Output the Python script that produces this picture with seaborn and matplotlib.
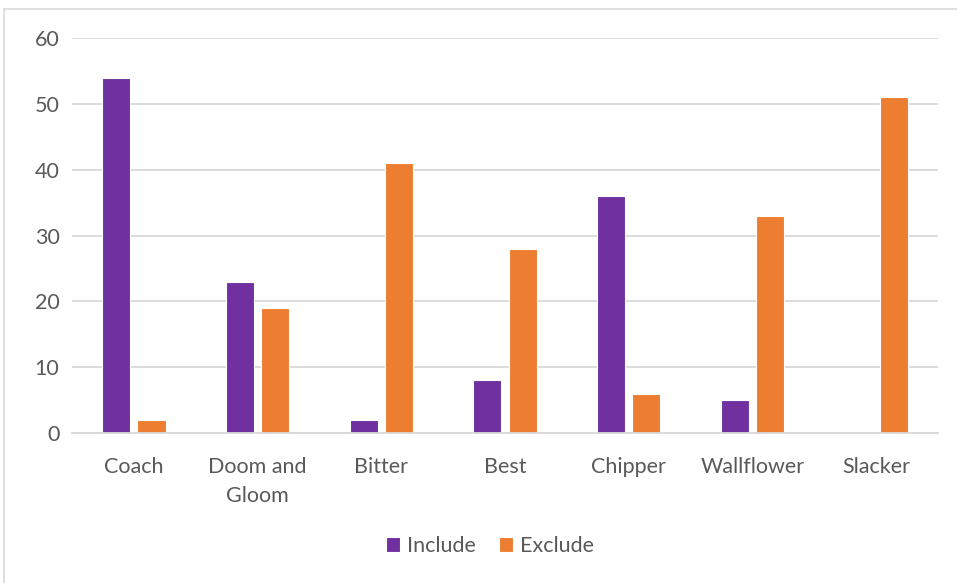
import matplotlib
matplotlib.use("Agg")
import matplotlib.pyplot as plt
import seaborn as sns
import pandas as pd
from matplotlib.patches import Rectangle

categories = ["Coach", "Doom and\nGloom", "Bitter", "Best", "Chipper", "Wallflower", "Slacker"]
include = [54, 23, 2, 8, 36, 5, 0]
exclude = [2, 19, 41, 28, 6, 33, 51]
series = ["Include", "Exclude"]
yticks = [0, 10, 20, 30, 40, 50, 60]

df = pd.DataFrame({
    "category": categories * 2,
    "series": [series[0]] * len(categories) + [series[1]] * len(categories),
    "value": include + exclude,
})

sns.set_theme(style="white")
plt.rcParams["font.family"] = ["Lato", "DejaVu Sans"]
text_color = "#595959"
grid_color = "#D9D9D9"

fig = plt.figure(figsize=(9.57, 5.83), dpi=100)
ax = fig.add_axes([72/957, 1-433/583, (938-72)/957, (433-38)/583])

sns.barplot(data=df, x="category", y="value", hue="series",
            palette=["#7030A0", "#ED7D31"], saturation=1, width=0.57, gap=0.2,
            edgecolor="white", linewidth=0.8, ax=ax, legend=True)

ax.set_ylim(0, 60)
ax.set_xlim(-0.5, len(categories) - 0.5)
ax.set_yticks(yticks)
ax.set_yticklabels([str(t) for t in yticks])
ax.yaxis.grid(True, color=grid_color, linewidth=1.3)
ax.set_axisbelow(True)
for s in ["top", "right", "left"]:
    ax.spines[s].set_visible(False)
ax.spines["bottom"].set_color(grid_color)
ax.spines["bottom"].set_linewidth(1.3)
ax.set_xlabel("")
ax.set_ylabel("")
ax.tick_params(axis="both", length=0, labelsize=15.5, labelcolor=text_color)
ax.tick_params(axis="x", pad=17)
ax.tick_params(axis="y", pad=9)
for lbl in ax.get_xticklabels():
    lbl.set_linespacing(1.6)

handles, labels = ax.get_legend_handles_labels()
ax.get_legend().remove()
leg = fig.legend(handles, labels, loc="center", bbox_to_anchor=(490/957, 1-546/583),
                 ncol=2, frameon=False, fontsize=15.5, handlelength=0.65, handleheight=0.65,
                 handletextpad=0.3, columnspacing=1.1)
for t in leg.get_texts():
    t.set_color(text_color)

fig.patches.append(Rectangle((4/957, -0.1), 1.2, 1 - 9/583 + 0.1, transform=fig.transFigure,
                             fill=False, edgecolor=grid_color, linewidth=1.2))

fig.savefig("out.png", dpi=100)
